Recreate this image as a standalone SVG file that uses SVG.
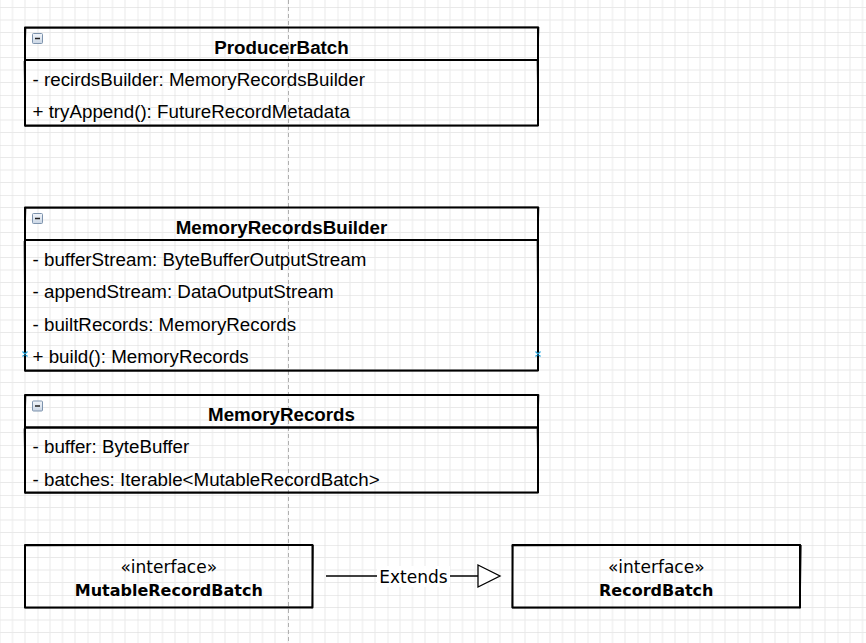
<svg xmlns="http://www.w3.org/2000/svg" width="866" height="643" viewBox="0 0 866 643">
  <defs>
    <pattern id="grid" patternUnits="userSpaceOnUse" x="37.5" y="45" width="50" height="50">
      <path d="M12.5 0V50M25 0V50M37.5 0V50M0 12.5H50M0 25H50M0 37.5H50" stroke="#e9e9e9" stroke-width="1" fill="none"/>
      <path d="M0 0V50M0 0H50" stroke="#dadada" stroke-width="1" fill="none"/>
    </pattern>
    <linearGradient id="icon" x1="0" y1="0" x2="0" y2="1">
      <stop offset="0" stop-color="#f4f7fb"/>
      <stop offset="1" stop-color="#c9d5e4"/>
    </linearGradient>
    <g id="minus">
      <rect x="0" y="0" width="10" height="10" rx="1" fill="url(#icon)" stroke="#7d93ad" stroke-width="1"/>
      <path d="M2.5 5H7.5" stroke="#222" stroke-width="1.5"/>
    </g>
  </defs>
  <style>
    .box{fill:none;stroke:#000;stroke-width:2;stroke-linejoin:round}
    .sk{fill:none;stroke:#000;stroke-width:1;opacity:.6}
    .title{font-family:"Liberation Sans",Arial,sans-serif;font-size:18.75px;font-weight:bold;fill:#000;text-anchor:middle}
    .attr{font-family:"Liberation Sans",Arial,sans-serif;font-size:18.75px;fill:#000}
    .st{font-family:"Comic Sans MS","DejaVu Sans",sans-serif;font-size:17px;fill:#000;text-anchor:middle}
    .iname{font-family:"Comic Sans MS","DejaVu Sans",sans-serif;font-size:16px;font-weight:bold;fill:#000;text-anchor:middle}
    .lbl{font-family:"Comic Sans MS","DejaVu Sans",sans-serif;font-size:17px;fill:#000;text-anchor:middle}
    .pt{stroke:#29a8e0;stroke-width:1.3;fill:none}
  </style>
  <rect width="866" height="643" fill="#ffffff"/>
  <rect width="866" height="643" fill="url(#grid)"/>
  <line x1="288.5" y1="0" x2="288.5" y2="643" stroke="#b0b0b0" stroke-width="1" stroke-dasharray="4 3"/>

  <g id="ProducerBatch">
    <rect class="box" x="25" y="27.5" width="513" height="32.5"/>
    <path class="sk" d="M26 28.3L539 27M539 27L537.5 61M24.5 61L26 28"/>
    <rect class="box" x="25" y="60" width="513" height="65.5"/>
    <path class="sk" d="M24 61L25.5 126.5M537 61L538.5 126M24.5 126.5L538 125.8"/>
    <use href="#minus" x="32.5" y="33.5"/>
    <text class="title" x="281.5" y="53.5">ProducerBatch</text>
    <text class="attr" x="32.5" y="85.5">- recirdsBuilder: MemoryRecordsBuilder</text>
    <text class="attr" x="32.5" y="118">+ tryAppend(): FutureRecordMetadata</text>
  </g>

  <g id="MemoryRecordsBuilder">
    <rect class="box" x="25" y="207.5" width="513" height="32.5"/>
    <path class="sk" d="M26 208.3L539 207M539 207L537.5 241M24.5 241L26 208"/>
    <rect class="box" x="25" y="240" width="513" height="130.5"/>
    <path class="sk" d="M24 241L25.5 371.5M537 241L538.5 371M24.5 371.5L538 370.8"/>
    <use href="#minus" x="32.5" y="213.5"/>
    <text class="title" x="281.5" y="233.5">MemoryRecordsBuilder</text>
    <text class="attr" x="32.5" y="265.5">- bufferStream: ByteBufferOutputStream</text>
    <text class="attr" x="32.5" y="298">- appendStream: DataOutputStream</text>
    <text class="attr" x="32.5" y="330.5">- builtRecords: MemoryRecords</text>
    <text class="attr" x="32.5" y="363">+ build(): MemoryRecords</text>
    <path class="pt" d="M22.5 351.5L27.5 356.5M27.5 351.5L22.5 356.5M535.5 351.5L540.5 356.5M540.5 351.5L535.5 356.5"/>
  </g>

  <g id="MemoryRecords">
    <rect class="box" x="25" y="395" width="513" height="32.5"/>
    <path class="sk" d="M26 395.8L539 394.5M539 394.5L537.5 428.5M24.5 428.5L26 395.5"/>
    <rect class="box" x="25" y="427.5" width="513" height="65"/>
    <path class="sk" d="M24 428.5L25.5 493.5M537 428.5L538.5 493M24.5 493.5L538 492.8"/>
    <use href="#minus" x="32.5" y="401"/>
    <text class="title" x="281.5" y="421">MemoryRecords</text>
    <text class="attr" x="32.5" y="453">- buffer: ByteBuffer</text>
    <text class="attr" x="32.5" y="485.5">- batches: Iterable&lt;MutableRecordBatch&gt;</text>
  </g>

  <g id="MutableRecordBatch">
    <rect class="box" x="25" y="545" width="287.5" height="62.5"/>
    <path class="sk" d="M24 546L313 544.5M313.5 545L312 608.5M24.5 608L313 607M25.5 544.5L24.5 608"/>
    <text class="st" x="168.75" y="573">«interface»</text>
    <text class="iname" x="168.75" y="596">MutableRecordBatch</text>
  </g>

  <g id="RecordBatch">
    <rect class="box" x="512.5" y="545" width="287.5" height="62.5"/>
    <path class="sk" d="M511.5 546L801 544.5M801.5 545L800 608.5M512 608L801 607M513 544.5L512 608"/>
    <text class="st" x="656.25" y="573">«interface»</text>
    <text class="iname" x="656.25" y="596">RecordBatch</text>
  </g>

  <g id="connectors">
    <line x1="326" y1="576" x2="478" y2="576" stroke="#000" stroke-width="1.3"/>
    <polygon points="478,565 500,576 478,587" fill="#ffffff" stroke="#000" stroke-width="1.3" stroke-linejoin="miter"/>
    <rect x="377" y="566" width="73" height="21" fill="#ffffff"/>
    <text class="lbl" x="413.5" y="582.5">Extends</text>
  </g>
</svg>
